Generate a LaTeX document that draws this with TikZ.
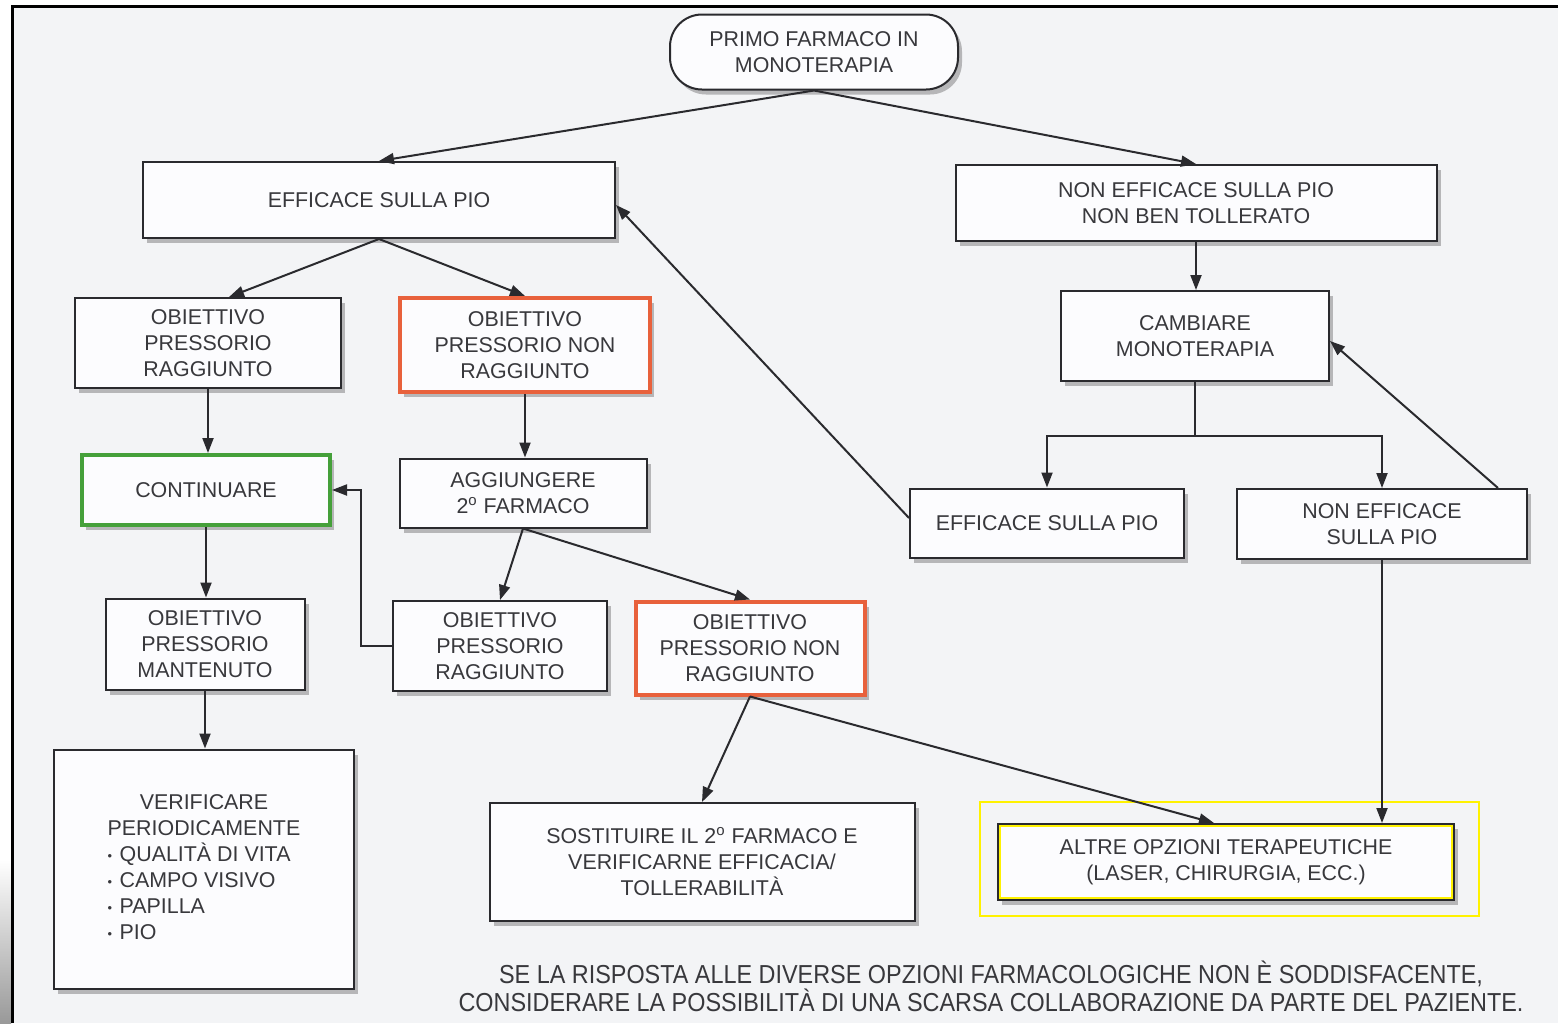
\documentclass[tikz,border=0pt]{standalone}
\usepackage{fontspec}
\setmainfont{Liberation Sans}
\usetikzlibrary{arrows.meta,shadows,calc}
\definecolor{txt}{HTML}{38383C}
\definecolor{boxline}{HTML}{2A2A2E}
\definecolor{bgc}{HTML}{F3F4F6}
\definecolor{boxfill}{HTML}{FCFCFE}
\definecolor{orangeb}{HTML}{E8613C}
\definecolor{greenb}{HTML}{45A03A}
\definecolor{yel}{HTML}{FFF200}
\newcommand{\mybul}{\raisebox{0.5pt}{\scalebox{0.6}{\textbullet}}\hspace{0.35em}}
\begin{document}
\begin{tikzpicture}[x=0.5pt,y=-0.5pt,
  box/.style={draw=boxline, line width=1pt, fill=boxfill, text=txt, align=center,
    inner sep=0pt, font=\fontsize{10.7}{13}\selectfont,
    drop shadow={shadow xshift=2pt, shadow yshift=-2.5pt, fill=black, opacity=0.25}},
  orangebox/.style={box, draw=orangeb, line width=2pt},
  greenbox/.style={box, draw=greenb, line width=2pt},
  conn/.style={draw=boxline, line width=1pt},
  arr/.style={conn, -{Triangle[length=7.5pt,width=5.5pt]}},
  yline/.style={draw=yel, line width=1pt}
]
\useasboundingbox (0,0) rectangle (1558,1023);
% background and frame
\fill[white] (0,0) rectangle (1558,1023);
\fill[bgc] (12,6) rectangle (1558,1023);
\shade[top color=white, bottom color=black!40] (0,860) rectangle (11,1023);
\draw[black, line width=1.5pt] (12,1023) -- (12,6) -- (1558,6);

% nodes
\node[box, rounded corners=16pt, minimum width=144pt, minimum height=37.5pt] (prim) at (814,52) {PRIMO FARMACO IN\\MONOTERAPIA};
\node[box, minimum width=236pt, minimum height=38pt] (eff) at (379,200) {EFFICACE SULLA PIO};
\node[box, minimum width=240.5pt, minimum height=38pt] (neff) at (1196,203) {NON EFFICACE SULLA PIO\\NON BEN TOLLERATO};
\node[box, minimum width=133pt, minimum height=45pt] (ob1) at (208,343) {OBIETTIVO\\PRESSORIO\\RAGGIUNTO};
\node[orangebox, minimum width=125pt, minimum height=47pt] (or1) at (525,345) {OBIETTIVO\\PRESSORIO NON\\RAGGIUNTO};
\node[box, minimum width=134pt, minimum height=45pt] (camb) at (1195,336) {CAMBIARE\\MONOTERAPIA};
\node[greenbox, minimum width=124pt, minimum height=35pt] (cont) at (206,490) {CONTINUARE};
\node[box, minimum width=123.5pt, minimum height=34.5pt] (agg) at (523,493) {AGGIUNGERE\\2\textsuperscript{o} FARMACO};
\node[box, minimum width=137pt, minimum height=34.5pt] (effr) at (1047,523) {EFFICACE SULLA PIO};
\node[box, minimum width=145pt, minimum height=35pt] (nef2) at (1382,524) {NON EFFICACE\\SULLA PIO};
\node[box, minimum width=99.5pt, minimum height=45.5pt] (obm) at (205,644) {OBIETTIVO\\PRESSORIO\\MANTENUTO};
\node[box, minimum width=107pt, minimum height=45pt] (ob2) at (500,646) {OBIETTIVO\\PRESSORIO\\RAGGIUNTO};
\node[orangebox, minimum width=114.5pt, minimum height=46.5pt] (or2) at (750,648) {OBIETTIVO\\PRESSORIO NON\\RAGGIUNTO};
\node[box, minimum width=150pt, minimum height=119.5pt] (ver) at (204,869) {%
  \begin{tabular}{@{}l@{}}
  \multicolumn{1}{@{}c@{}}{VERIFICARE}\\
  PERIODICAMENTE\\
  \mybul QUALITÀ DI VITA\\
  \mybul CAMPO VISIVO\\
  \mybul PAPILLA\\
  \mybul PIO
  \end{tabular}};
\node[box, minimum width=212.5pt, minimum height=59pt] (sost) at (702,862) {SOSTITUIRE IL 2\textsuperscript{o} FARMACO E\\VERIFICARNE EFFICACIA/\\TOLLERABILITÀ};
\node[box, minimum width=228pt, minimum height=38pt] (altre) at (1226,862) {ALTRE OPZIONI TERAPEUTICHE\\(LASER, CHIRURGIA, ECC.)};
\draw[yline] ($(altre.north west)+(1.3pt,-1.3pt)$) rectangle ($(altre.south east)+(-1.3pt,1.3pt)$);
\draw[yline] (980,802) rectangle (1479,916);

\node[text=txt, font=\fontsize{13}{14}\selectfont, align=center, inner sep=0pt] (note) at (991,986)
  {\scalebox{0.9}[1]{SE LA RISPOSTA ALLE DIVERSE OPZIONI FARMACOLOGICHE NON È SODDISFACENTE,}\\
   \scalebox{0.9}[1]{CONSIDERARE LA POSSIBILITÀ DI UNA SCARSA COLLABORAZIONE DA PARTE DEL PAZIENTE.}};

% connectors
\draw[arr] (prim.south) -- (eff.north);
\draw[arr] (prim.south) -- (neff.north);
\draw[arr] (eff.south) -- ($(ob1.north)+(21,0)$);
\draw[arr] (eff.south) -- (or1.north);
\draw[arr] (ob1.south) -- (ob1.south |- cont.north);
\draw[arr] (or1.south) -- (or1.south |- agg.north);
\draw[arr] (cont.south) -- (cont.south |- obm.north);
\draw[arr] (obm.south) -- (obm.south |- ver.north);
\draw[arr] (agg.south) -- (ob2.north);
\draw[arr] (agg.south) -- (or2.north);
\draw[arr] (ob2.west) -- ++(-31,0) |- (cont.east);
\draw[arr] (or2.south) -- (sost.north);
\draw[arr] (or2.south) -- ($(altre.north)+(-12,0)$);
\draw[arr] (neff.south) -- (neff.south |- camb.north);
\draw[conn] (camb.south) -- ++(0,54) coordinate (split);
\draw[arr] (split) -| (effr.north);
\draw[arr] (split) -| (nef2.north);
\draw[arr] ($(effr.west)+(0,-5)$) -- ($(eff.east)+(0,5)$);
\draw[arr] ($(nef2.north east)+(-30,0)$) -- ($(camb.east)+(0,5)$);
\draw[arr] (nef2.south) -- (nef2.south |- altre.north);
\end{tikzpicture}
\end{document}
